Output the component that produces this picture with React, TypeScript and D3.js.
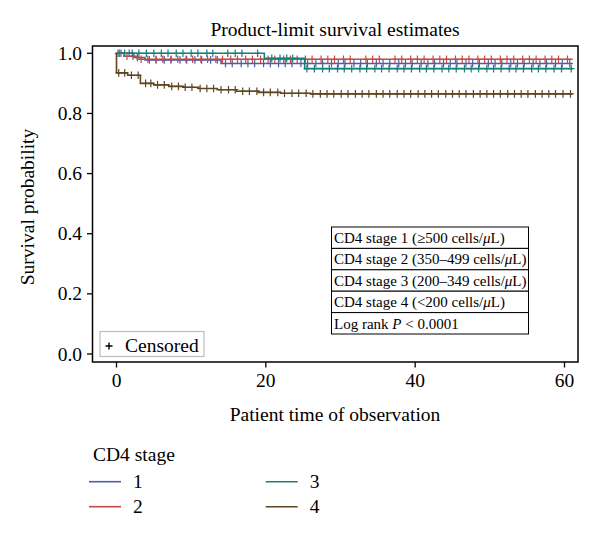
import React from 'react';
import * as d3 from 'd3';

// ---- data ----
const stageNames = ['1', '2', '3', '4'];
const stageColors = ['#505ca4', '#c24b45', '#1b7e77', '#5f4620'];
const stageRanges = ['≥500', '350–499', '200–349', '<200'];

const stage1Times = [0, 2.3, 3.8, 14.0];
const stage1Surv = [1, 0.986, 0.978, 0.966];
const stage2Times = [0, 1.0, 2.8];
const stage2Surv = [1, 0.99, 0.98];
const stage3Times = [0, 19.8, 25.2];
const stage3Surv = [1, 0.983, 0.949];
const stage4Times = [0, 0, 1.5, 3.2, 5.0, 7.0, 9.0, 11.0, 13.5, 16.0, 19.0, 22.0, 26.0];
const stage4Surv = [1, 0.935, 0.927, 0.9, 0.895, 0.89, 0.887, 0.883, 0.879, 0.874, 0.87, 0.867, 0.865];

const stage1Censored = [0.6, 1.7, 2.8, 4.4, 5.3, 6.4, 7.3, 8.5, 9.4, 10.5, 11.4, 12.6, 13.5, 14.6, 15.5, 16.7, 17.6, 18.5, 19.7, 20.6, 21.7, 22.6, 23.5, 24.7, 25.6, 26.7, 27.6, 28.8, 29.7, 30.6, 31.8, 32.7, 33.6, 34.8, 35.7, 36.6, 37.8, 38.7, 39.6, 40.8, 41.7, 42.6, 43.8, 44.7, 45.6, 46.8, 47.7, 48.6, 49.8, 50.7, 51.6, 52.8, 53.7, 54.6, 55.8, 56.7, 57.6, 58.8, 59.7, 60.7];
const stage2Censored = [0.4, 1.4, 2.2, 3.3, 4.2, 5.3, 6.2, 7.3, 8.2, 9.3, 10.2, 11.3, 12.2, 13.3, 14.2, 15.3, 16.2, 17.3, 18.2, 19.3, 20.3, 21.2, 22.4, 23.3, 24.2, 25.3, 26.2, 27.4, 28.3, 29.2, 30.4, 31.3, 33.4, 34.3, 35.2, 37.3, 38.2, 39.4, 40.3, 41.2, 42.4, 43.3, 44.2, 45.4, 46.3, 47.2, 48.4, 49.3, 50.2, 51.4, 52.3, 53.2, 54.4, 55.3, 56.2, 57.4, 58.3, 59.2, 60.4];
const stage3Censored = [0.2, 1.1, 2.1, 3.0, 4.0, 5.0, 6.0, 6.9, 8.0, 8.9, 10.0, 10.9, 12.1, 12.9, 14.9, 15.9, 16.8, 18.9, 20.8, 21.9, 22.8, 23.6, 25.5, 26.5, 27.6, 28.5, 29.6, 30.5, 31.5, 32.6, 33.5, 34.6, 35.5, 36.5, 37.6, 38.5, 39.5, 40.6, 41.5, 42.5, 43.6, 44.5, 45.5, 46.6, 47.5, 48.5, 49.6, 50.5, 51.5, 52.6, 53.5, 54.5, 55.6, 56.5, 57.5, 58.6, 59.6, 60.9];
const stage4Censored = [0.3, 1.1, 2.0, 2.9, 3.9, 4.6, 5.5, 6.4, 7.4, 8.3, 9.2, 10.1, 11.2, 12.1, 13.0, 14.0, 15.0, 15.9, 16.9, 17.8, 18.8, 19.7, 20.6, 21.6, 22.5, 23.5, 24.4, 25.4, 26.3, 27.3, 28.2, 29.1, 30.1, 31.0, 32.0, 32.9, 33.8, 34.8, 35.7, 36.6, 37.6, 38.5, 39.4, 40.4, 41.3, 42.2, 43.1, 44.1, 45.0, 45.9, 46.8, 47.8, 48.7, 49.6, 50.5, 51.4, 52.4, 53.3, 54.2, 55.1, 56.1, 57.0, 57.9, 58.8, 59.8, 60.8];

const endTime = 61.1;
const xTicks = [0, 20, 40, 60];
const yTicks = [0, 0.2, 0.4, 0.6, 0.8, 1.0];

const title = 'Product-limit survival estimates';
const xLabel = 'Patient time of observation';
const yLabel = 'Survival probability';
const legendTitle = 'CD4 stage';

// ---- layout ----
const W = 600, H = 541;
const frame = { left: 92.5, right: 578, top: 46, bottom: 362 };
const FONT = '"Liberation Serif", "Times New Roman", serif';

export default function App() {
  const x = d3.scaleLinear().domain([0, 60]).range([116.5, 564.5]);
  const y = d3.scaleLinear().domain([0, 1]).range([354, 53.3]);

  const series = [
    { times: stage1Times, surv: stage1Surv, cens: stage1Censored },
    { times: stage2Times, surv: stage2Surv, cens: stage2Censored },
    { times: stage3Times, surv: stage3Surv, cens: stage3Censored },
    { times: stage4Times, surv: stage4Surv, cens: stage4Censored },
  ];

  const line = d3
    .line<[number, number]>()
    .x((d) => x(d[0]))
    .y((d) => y(d[1]))
    .curve(d3.curveStepAfter);

  const survAt = (times: number[], surv: number[], t: number) => {
    let v = surv[0];
    for (let i = 0; i < times.length; i++) if (times[i] <= t) v = surv[i];
    return v;
  };

  const fs = 19.5;

  return (
    <svg width={W} height={H} style={{ position: 'absolute', left: 0, top: 0, background: '#fff' }} fontFamily={FONT}>
      <rect x={0} y={0} width={W} height={H} fill="#fff" />
      <text x={335} y={36} textAnchor="middle" fontSize={fs}>{title}</text>

      {/* curves */}
      {series.map((s, i) => {
        const pts: [number, number][] = s.times.map((t, k) => [t, s.surv[k]] as [number, number]);
        pts.push([endTime, s.surv[s.surv.length - 1]]);
        return (
          <g key={i}>
            <path d={line(pts) || ''} fill="none" stroke={stageColors[i]} strokeWidth={1.6} />
            {s.cens.map((t, k) => {
              const cx = x(t);
              const cy = y(survAt(s.times, s.surv, t));
              return (
                <path key={k} d={`M${cx},${cy - 3.8}V${cy + 3.8}M${cx - 3.2},${cy}H${cx + 3.2}`} stroke={stageColors[i]} strokeWidth={1.2} fill="none" />
              );
            })}
          </g>
        );
      })}

      {/* frame */}
      <rect x={frame.left} y={frame.top} width={frame.right - frame.left} height={frame.bottom - frame.top} fill="none" stroke="#000" strokeWidth={1.5} />

      {/* y axis */}
      {yTicks.map((v) => (
        <g key={v}>
          <line x1={frame.left - 5.5} x2={frame.left} y1={y(v)} y2={y(v)} stroke="#000" strokeWidth={1.3} />
          <text x={82} y={y(v) + 6.5} textAnchor="end" fontSize={fs}>{v.toFixed(1)}</text>
        </g>
      ))}
      <text transform={`translate(34,${207}) rotate(-90)`} textAnchor="middle" fontSize={fs}>{yLabel}</text>

      {/* x axis */}
      {xTicks.map((v) => (
        <g key={v}>
          <line x1={x(v)} x2={x(v)} y1={frame.bottom} y2={frame.bottom + 5.5} stroke="#000" strokeWidth={1.3} />
          <text x={x(v)} y={387} textAnchor="middle" fontSize={fs}>{v}</text>
        </g>
      ))}
      <text x={335} y={421} textAnchor="middle" fontSize={fs}>{xLabel}</text>

      {/* censored legend */}
      <rect x={100} y={331.5} width={104} height={25} fill="#fff" stroke="#bdbdbd" strokeWidth={1.2} />
      <path d="M105.5,346H112.5M109,342.5V349.5" stroke="#000" strokeWidth={1.4} />
      <text x={125} y={352} fontSize={fs}>Censored</text>

      {/* table */}
      {[0, 1, 2, 3, 4].map((r) => {
        const top = 227 + r * 21.4;
        return (
          <g key={r}>
            <rect x={331.5} y={top} width={197} height={21.4} fill="#fff" stroke="#000" strokeWidth={1} />
            <text x={334} y={top + 16} fontSize={15}>
              {r < 4 ? (
                <>
                  {`CD4 stage ${stageNames[r]} (${stageRanges[r]} cells/`}
                  <tspan fontStyle="italic">μ</tspan>
                  {'L)'}
                </>
              ) : (
                <>
                  {'Log rank '}
                  <tspan fontStyle="italic">P</tspan>
                  {' < 0.0001'}
                </>
              )}
            </text>
          </g>
        );
      })}

      {/* bottom legend */}
      <text x={93} y={461} fontSize={fs}>{legendTitle}</text>
      {stageNames.map((n, i) => {
        const col = Math.floor(i / 2);
        const row = i % 2;
        const lx = 89 + col * 176.7;
        const ly = 481.7 + row * 25;
        return (
          <g key={n}>
            <line x1={lx} x2={lx + 32} y1={ly} y2={ly} stroke={stageColors[i]} strokeWidth={1.6} />
            <text x={lx + 44} y={ly + 6.5} fontSize={fs}>{n}</text>
          </g>
        );
      })}
    </svg>
  );
}
